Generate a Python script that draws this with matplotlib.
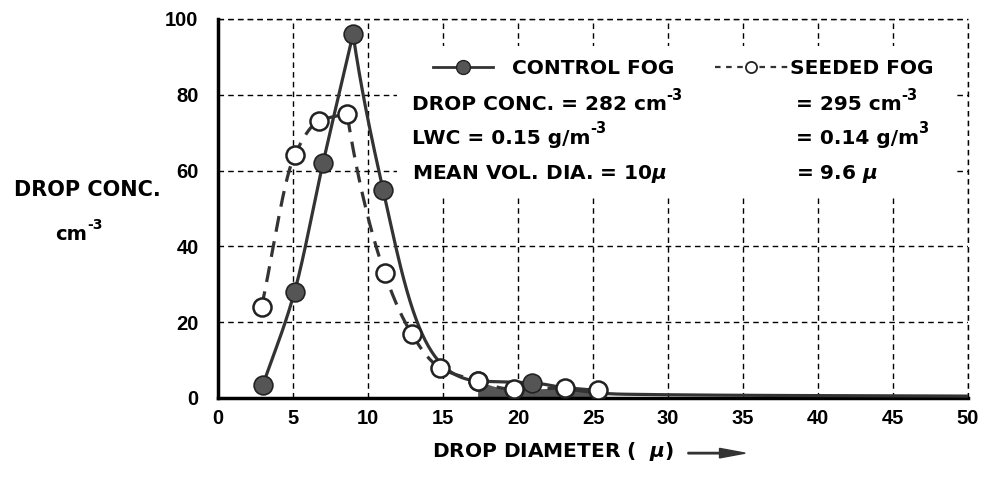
import numpy as np
import matplotlib.pyplot as plt
from matplotlib.patches import Rectangle, FancyArrow

plt.rcParams['font.family'] = ['DejaVu Sans']
plt.rcParams['font.weight'] = 'bold'
plt.rcParams['mathtext.fontset'] = 'custom'
plt.rcParams['mathtext.it'] = 'DejaVu Sans:italic'
plt.rcParams['mathtext.rm'] = 'DejaVu Sans:bold'

# control fog (filled markers)
control_d = [3.0, 5.1, 7.0, 9.0, 11.0, 17.3, 20.9]
control_n = [3.5, 28.0, 62.0, 96.0, 55.0, 4.5, 4.0]
# the control curve runs on along the bottom to the end of the axis
control_tail_d = [27.0, 50.0]
control_tail_n = [1.0, 0.5]

# seeded fog (open markers)
seeded_d = [2.9, 5.1, 6.7, 8.6, 11.1, 12.9, 14.8, 17.3, 19.7, 23.1, 25.3]
seeded_n = [24.0, 64.0, 73.0, 75.0, 33.0, 17.0, 8.0, 4.5, 2.3, 2.6, 2.0]

xticks = [0, 5, 10, 15, 20, 25, 30, 35, 40, 45, 50]
yticks = [0, 20, 40, 60, 80, 100]

DASH = (0, (4, 3))


def pchip(x, y, xs):
    # monotone cubic through the points
    x = np.asarray(x, float)
    y = np.asarray(y, float)
    h = np.diff(x)
    d = np.diff(y) / h
    m = np.zeros(len(x))
    m[0], m[-1] = d[0], d[-1]
    for k in range(1, len(x) - 1):
        if d[k - 1] * d[k] > 0:
            w1 = 2 * h[k] + h[k - 1]
            w2 = h[k] + 2 * h[k - 1]
            m[k] = (w1 + w2) / (w1 / d[k - 1] + w2 / d[k])
    i = np.clip(np.searchsorted(x, xs) - 1, 0, len(x) - 2)
    t = (xs - x[i]) / h[i]
    h00 = 2 * t**3 - 3 * t**2 + 1
    h10 = t**3 - 2 * t**2 + t
    h01 = -2 * t**3 + 3 * t**2
    h11 = t**3 - t**2
    return h00 * y[i] + h10 * h[i] * m[i] + h01 * y[i + 1] + h11 * h[i] * m[i + 1]


def smooth(x, y):
    # rising side in linear space, decaying side in log space
    x = np.asarray(x, float)
    y = np.asarray(y, float)
    k = int(np.argmax(y))
    xa = np.linspace(x[0], x[k], 200)
    ya = pchip(x[:k + 1], y[:k + 1], xa)
    xb = np.linspace(x[k], x[-1], 400)
    yb = np.exp(pchip(x[k:], np.log(y[k:]), xb))
    return np.r_[xa, xb], np.r_[ya, yb]


fig = plt.figure(figsize=(9.87, 4.78), dpi=100)
ax = fig.add_axes([0.2209, 0.1674, 0.7599, 0.7929])


def label(where, x, y, base, sup=None, size=14.5, zorder=6):
    # text with a small raised suffix such as "-3"
    t = where.text(x, y, base, fontsize=size, fontweight='bold', va='baseline', zorder=zorder)
    if sup:
        ax.annotate(sup, xy=(1.0, 0.62), xycoords=t, fontsize=size * 0.72,
                    fontweight='bold', ha='left', va='bottom', zorder=zorder,
                    annotation_clip=False)
    return t


ax.set_xlim(0, 50)
ax.set_ylim(0, 100)
ax.set_xticks(xticks)
ax.set_yticks(yticks)
ax.tick_params(length=0, labelsize=14.5)
ax.tick_params(axis='y', pad=14)
ax.tick_params(axis='x', pad=8)
for lab in ax.get_xticklabels() + ax.get_yticklabels():
    lab.set_fontweight('bold')
    lab.set_family('Liberation Sans')

ax.grid(True, color='black', linestyle=DASH, linewidth=1.0, zorder=0)
ax.set_axisbelow(True)
for s in ['top', 'right']:
    ax.spines[s].set_visible(False)
ax.spines['left'].set_linewidth(2.5)
ax.spines['bottom'].set_linewidth(2.5)
# dashed frame on the top and right
ax.axhline(100, color='black', linestyle=DASH, linewidth=1.0, zorder=0, clip_on=False)
ax.axvline(50, color='black', linestyle=DASH, linewidth=1.0, zorder=0, clip_on=False)

# white panel behind the annotation block
ax.add_patch(Rectangle((11.9, 53), 37.3, 40, facecolor='white', edgecolor='none', zorder=1))

cx, cy = smooth(control_d + control_tail_d, control_n + control_tail_n)
ax.plot(cx, cy, color='#333333', linewidth=2.3, zorder=3)

sx, sy = smooth(seeded_d, seeded_n)
ax.plot(sx, sy, color='#333333', linewidth=2.3, linestyle=(0, (5, 3)), zorder=3)
# shaded band under the seeded tail
tail = (sx >= 17.3) & (sx <= 25.8)
ax.fill_between(sx[tail], 0, sy[tail], color='#555555', linewidth=0, zorder=2)

ax.plot(control_d, control_n, 'o', markersize=13.5, markerfacecolor='#555555',
        markeredgecolor='#222222', markeredgewidth=1.2, zorder=4)
ax.plot(seeded_d, seeded_n, 'o', markersize=13, markerfacecolor='white',
        markeredgecolor='#222222', markeredgewidth=1.8, zorder=5)

# legend entries drawn in place
ax.plot([14.3, 18.3], [87.3, 87.3], color='#333333', linewidth=2, zorder=3)
ax.plot([16.3], [87.3], 'o', markersize=10, markerfacecolor='#555555',
        markeredgecolor='#222222', zorder=4)
label(ax, 19.6, 85.4, 'CONTROL FOG')
ax.plot([33.1, 38.0], [87.3, 87.3], color='#333333', linewidth=1.6,
        linestyle=(0, (2.5, 2.5)), zorder=3)
ax.plot([35.5], [87.3], 'o', markersize=8, markerfacecolor='white',
        markeredgecolor='#222222', markeredgewidth=1.3, zorder=4)
label(ax, 38.1, 85.4, 'SEEDED FOG')

rows = [75.9, 67.0, 57.8]
label(ax, 12.9, rows[0], 'DROP CONC. = 282 cm', '-3')
label(ax, 12.9, rows[1], 'LWC = 0.15 g/m', '-3')
label(ax, 12.9, rows[2], r'MEAN VOL. DIA. = 10$\mathit{\mu}$')
label(ax, 38.5, rows[0], '= 295 cm', '-3')
label(ax, 38.5, rows[1], '= 0.14 g/m', '3')
label(ax, 38.5, rows[2], r'= 9.6 $\mathit{\mu}$')

fig.text(0.089, 0.59, 'DROP CONC.', fontsize=15, fontweight='bold', ha='center', va='baseline')
label(fig, 0.0557, 0.498, 'cm', '-3', size=14)

fig.text(0.438, 0.043, r'DROP DIAMETER (  $\mathit{\mu}$)', fontsize=14.5, fontweight='bold',
         ha='left', va='baseline')
fig.patches.append(FancyArrow(
    0.697, 0.052, 0.058, 0, width=0.003, head_width=0.02, head_length=0.026,
    length_includes_head=True, color='#333333', transform=fig.transFigure, figure=fig))

fig.savefig('out.png', dpi=100)
